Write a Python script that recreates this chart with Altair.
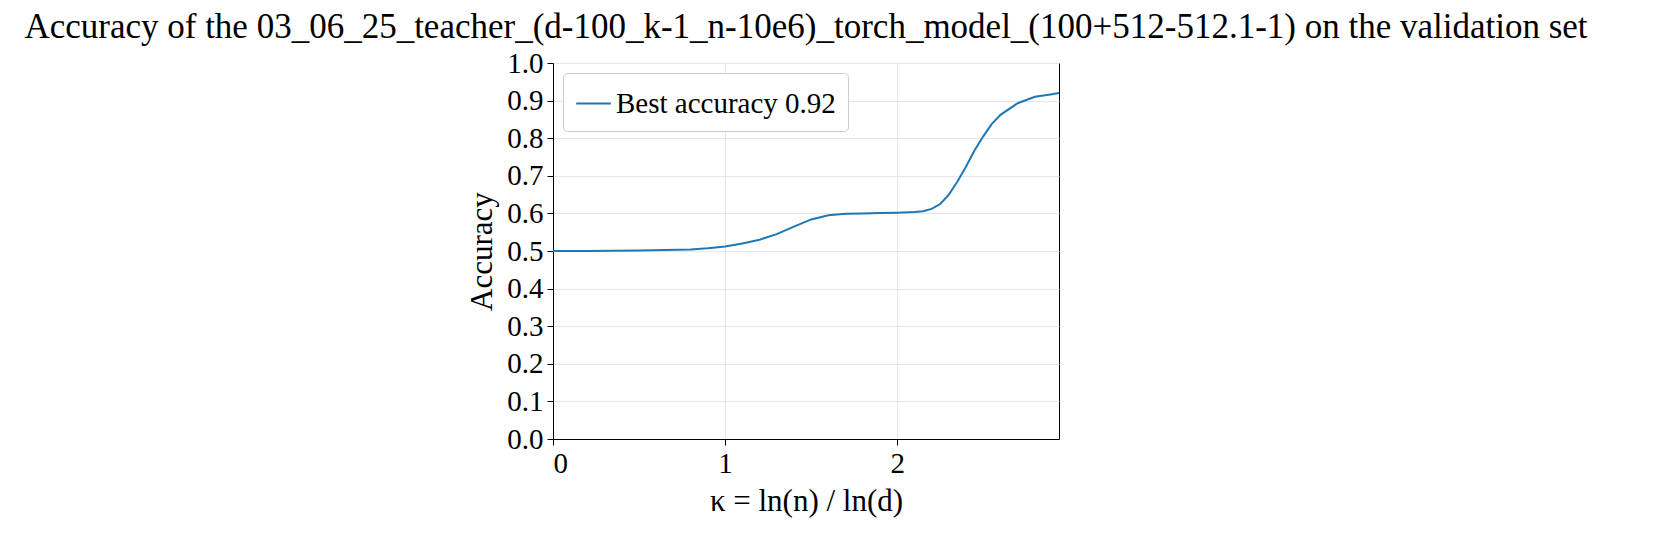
import altair as alt
import pandas as pd

kappa = [0.0, 0.2, 0.5, 0.8, 0.9, 1.0, 1.1, 1.2, 1.3, 1.4, 1.5, 1.6, 1.7, 1.8, 1.9,
         2.0, 2.1, 2.15, 2.2, 2.25, 2.3, 2.35, 2.4, 2.45, 2.5, 2.55, 2.6, 2.7, 2.8, 2.9, 2.94]
accuracy = [0.500, 0.500, 0.501, 0.504, 0.507, 0.512, 0.520, 0.530, 0.545, 0.565, 0.584,
            0.595, 0.599, 0.600, 0.601, 0.602, 0.604, 0.606, 0.612, 0.625, 0.650, 0.685,
            0.725, 0.768, 0.805, 0.838, 0.862, 0.893, 0.910, 0.917, 0.920]

df = pd.DataFrame({"kappa": kappa, "accuracy": accuracy, "series": "Best accuracy 0.92"})

font = "Liberation Serif"

chart = (
    alt.Chart(df)
    .mark_line(strokeWidth=2)
    .encode(
        x=alt.X("kappa:Q", title="κ = ln(n) / ln(d)",
                scale=alt.Scale(domain=[0, 2.94], nice=False, zero=False),
                axis=alt.Axis(values=[0, 1, 2], format="d")),
        y=alt.Y("accuracy:Q", title="Accuracy",
                scale=alt.Scale(domain=[0, 1]),
                axis=alt.Axis(values=[i / 10 for i in range(11)], format=".1f")),
        color=alt.Color("series:N", title=None,
                        scale=alt.Scale(range=["#1f77b4"]),
                        legend=alt.Legend(orient="top-left", symbolType="stroke",
                                          symbolSize=1200, symbolStrokeWidth=2,
                                          labelFontSize=29, labelFont=font, labelLimit=0,
                                          labelColor="black",
                                          strokeColor="#cccccc", padding=12,
                                          cornerRadius=4, fillColor="white",
                                          offset=10)),
    )
    .properties(
        width=506, height=376,
        title=alt.Title("Accuracy of the 03_06_25_teacher_(d-100_k-1_n-10e6)_torch_model_(100+512-512.1-1) on the validation set",
                        font=font, fontSize=35, fontWeight="normal", color="black"),
        padding={"left": 16, "top": 2, "right": 5, "bottom": 5},
    )
    .configure_axis(labelFont=font, titleFont=font, labelFontSize=29, titleFontSize=31,
                    titleFontWeight="normal", labelColor="black", titleColor="black",
                    gridColor="#e6e6e6", domainColor="black", tickColor="black",
                    tickSize=6, labelPadding=4, titlePadding=8)
    .configure_view(stroke="black")
)

chart.save("out.html", embed_options={"renderer": "svg", "actions": False})
